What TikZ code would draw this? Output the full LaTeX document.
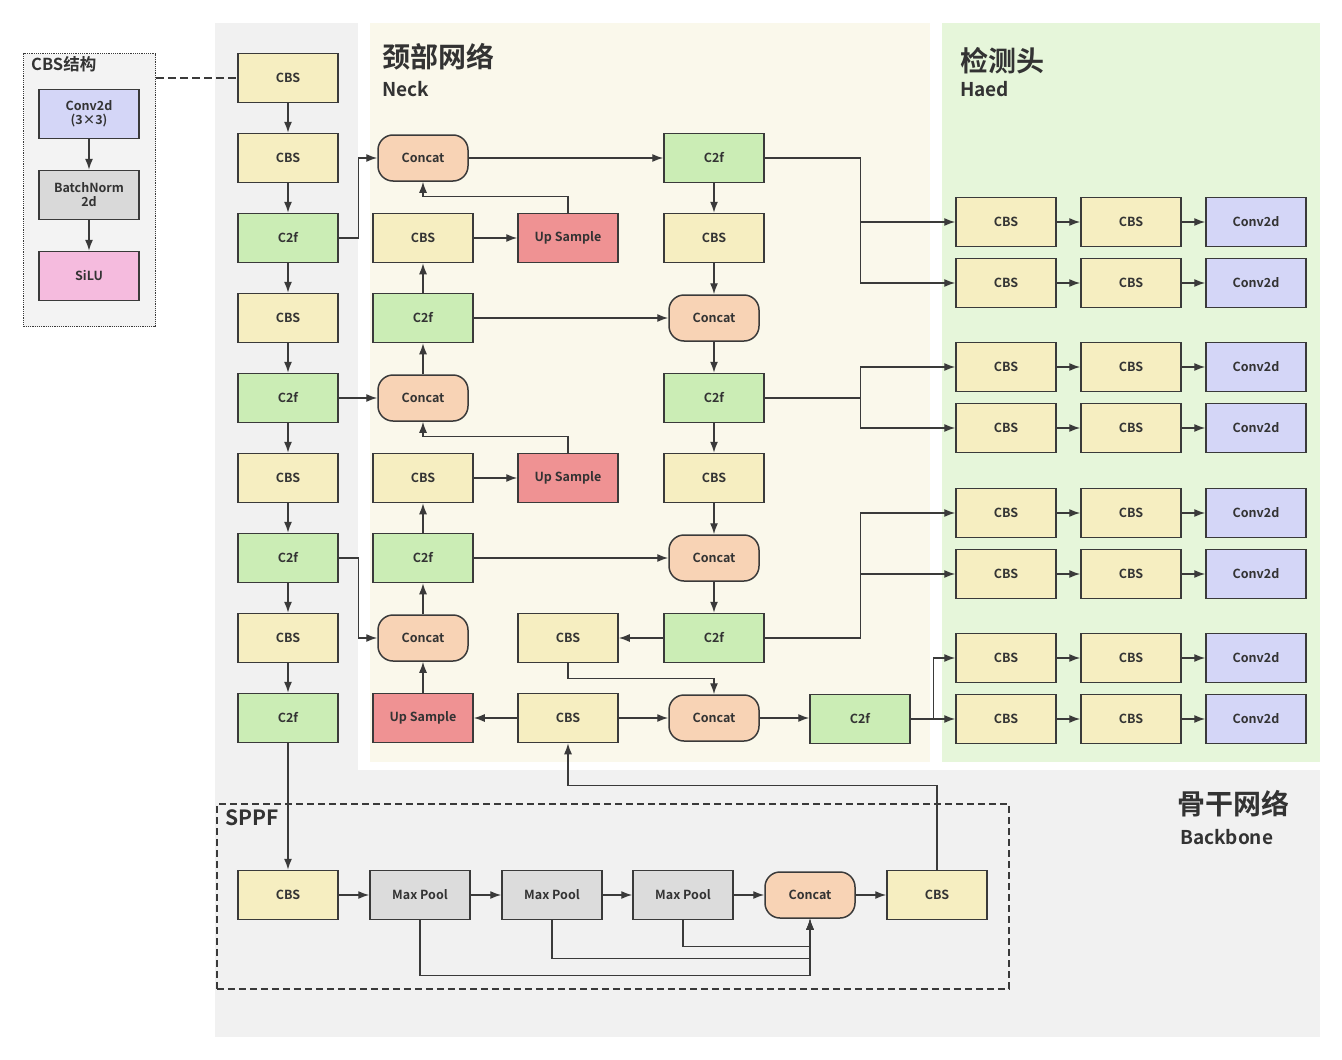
\documentclass[tikz,border=0pt]{standalone}
\usepackage{fontspec}
\setmainfont{Noto Sans CJK SC}[BoldFont={Noto Sans CJK SC Bold}]
\usetikzlibrary{arrows.meta,positioning}
\definecolor{linecol}{HTML}{3A3A3A}
\definecolor{textcol}{HTML}{333333}
\definecolor{cbsfill}{HTML}{F6EEC1}
\definecolor{c2ffill}{HTML}{CBEDB5}
\definecolor{catfill}{HTML}{F8D3B5}
\definecolor{upfill}{HTML}{EF9293}
\definecolor{convfill}{HTML}{D4D6F7}
\definecolor{bnfill}{HTML}{D9D9D9}
\definecolor{silufill}{HTML}{F5BBDE}
\definecolor{poolfill}{HTML}{DCDCDC}
\definecolor{bbbg}{HTML}{F1F1F1}
\definecolor{neckbg}{HTML}{FAF8EB}
\definecolor{headbg}{HTML}{E6F6DA}
\definecolor{cbsbg}{HTML}{F3F3F3}
\tikzset{
  box/.style={draw=linecol, line width=1.5pt, minimum width=100pt, minimum height=49pt,
    inner sep=0pt, font=\bfseries\fontsize{12.5}{14}\selectfont, text=textcol, align=center},
  cbs/.style={box, fill=cbsfill},
  c2f/.style={box, fill=c2ffill},
  cat/.style={box, fill=catfill, minimum width=90pt, minimum height=46pt, rounded corners=15pt},
  upsm/.style={box, fill=upfill},
  conv/.style={box, fill=convfill},
  bn/.style={box, fill=bnfill},
  silu/.style={box, fill=silufill},
  pool/.style={box, fill=poolfill},
  arr/.style={draw=linecol, line width=1.4pt, -{Latex[length=11pt,width=8pt]}},
  bigtitle/.style={anchor=west, inner sep=0pt, text=textcol, font=\bfseries\fontsize{28}{30}\selectfont},
  subtitle/.style={anchor=west, inner sep=0pt, text=textcol, font=\bfseries\fontsize{19}{21}\selectfont},
}
\begin{document}
\begin{tikzpicture}[x=1pt,y=-1pt]
\useasboundingbox (0,0) rectangle (1342,1060);
\fill[white] (0,0) rectangle (1342,1060);
% backgrounds
\fill[bbbg] (215,23) rectangle (1320,1037);
\fill[white] (358,15) rectangle (1330,770);
\fill[neckbg] (370,23) rectangle (930,762);
\fill[headbg] (942,23) rectangle (1320,762);
% titles
\node[bigtitle] (tneck) at (382,57) {颈部网络};
\node[subtitle] (tneck2) at (382,89) {Neck};
\node[bigtitle] (thead) at (960,61) {检测头};
\node[subtitle] (thead2) at (960,89) {Haed};
\node[bigtitle] (tbb) at (1177,804) {骨干网络};
\node[subtitle] (tbb2) at (1180,837) {Backbone};
% CBS structure box
\node[draw=linecol, densely dotted, line width=1.2pt, fill=cbsbg, minimum width=132pt, minimum height=273pt, anchor=north west, inner sep=0pt] (cbsbox) at (23,53) {};
\node[anchor=west, inner sep=0pt, text=textcol, font=\bfseries\fontsize{16.5}{18}\selectfont] (cbstitle) at (31,64) {CBS结构};
\node[conv] (sconv) at (89,114) {Conv2d\\(3×3)};
\node[bn] (sbn) at (89,195) {BatchNorm\\2d};
\node[silu] (ssilu) at (89,276) {SiLU};
\draw[arr] (sconv) -- (sbn);
\draw[arr] (sbn) -- (ssilu);
% SPPF box
\node[draw=linecol, dash pattern=on 7pt off 4pt, line width=1.5pt, minimum width=792pt, minimum height=185pt, anchor=north west, inner sep=0pt] (sppfbox) at (216,803) {};
\node[anchor=west, inner sep=0pt, text=textcol, font=\bfseries\fontsize{21}{23}\selectfont] (sppft) at (225,818) {SPPF};
% backbone
\node[cbs] (b1) at (288,78) {CBS};
\node[cbs] (b2) at (288,158) {CBS};
\node[c2f] (b3) at (288,238) {C2f};
\node[cbs] (b4) at (288,318) {CBS};
\node[c2f] (b5) at (288,398) {C2f};
\node[cbs] (b6) at (288,478) {CBS};
\node[c2f] (b7) at (288,558) {C2f};
\node[cbs] (b8) at (288,638) {CBS};
\node[c2f] (b9) at (288,718) {C2f};
\draw[dash pattern=on 8pt off 4pt, draw=linecol, line width=1.5pt] (cbsbox.east |- b1.west) -- (b1.west);
\foreach \a/\b in {b1/b2,b2/b3,b3/b4,b4/b5,b5/b6,b6/b7,b7/b8,b8/b9} \draw[arr] (\a) -- (\b);
% SPPF nodes
\node[cbs] (s1) at (288,895) {CBS};
\node[pool] (s2) at (420,895) {Max Pool};
\node[pool] (s3) at (552,895) {Max Pool};
\node[pool] (s4) at (683,895) {Max Pool};
\node[cat] (s5) at (810,895) {Concat};
\node[cbs] (s6) at (937,895) {CBS};
\draw[arr] (b9) -- (s1);
\foreach \a/\b in {s1/s2,s2/s3,s3/s4,s4/s5,s5/s6} \draw[arr] (\a) -- (\b);
\draw[arr] (s2.south) -- ++(0,55) -| (s5.south);
\draw[arr] (s3.south) -- ++(0,38) -| (s5.south);
\draw[arr] (s4.south) -- ++(0,26) -| (s5.south);
% neck column 1
\node[cat] (n1) at (423,158) {Concat};
\node[cbs] (n2) at (423,238) {CBS};
\node[c2f] (n3) at (423,318) {C2f};
\node[cat] (n4) at (423,398) {Concat};
\node[cbs] (n5) at (423,478) {CBS};
\node[c2f] (n6) at (423,558) {C2f};
\node[cat] (n7) at (423,638) {Concat};
\node[upsm] (n8) at (423,718) {Up Sample};
% neck column 2
\node[upsm] (u1) at (568,238) {Up Sample};
\node[upsm] (u2) at (568,478) {Up Sample};
\node[cbs] (m1) at (568,638) {CBS};
\node[cbs] (m2) at (568,718) {CBS};
% neck column 3
\node[c2f] (r1) at (714,158) {C2f};
\node[cbs] (r2) at (714,238) {CBS};
\node[cat] (r3) at (714,318) {Concat};
\node[c2f] (r4) at (714,398) {C2f};
\node[cbs] (r5) at (714,478) {CBS};
\node[cat] (r6) at (714,558) {Concat};
\node[c2f] (r7) at (714,638) {C2f};
\node[cat] (r8) at (714,718) {Concat};
\node[c2f] (r9) at (860,719) {C2f};
% backbone -> neck
\draw[arr] (b3.east) -- ++(20,0) |- (n1.west);
\draw[arr] (b5) -- (n4);
\draw[arr] (b7.east) -- ++(20,0) |- (n7.west);
% neck col1 upward
\draw[arr] (n8) -- (n7);
\draw[arr] (n7) -- (n6);
\draw[arr] (n6) -- (n5);
\draw[arr] (n5) -- (u2);
\draw[arr] (u2.north) -- ++(0,-16.5) -| (n4.south);
\draw[arr] (n4) -- (n3);
\draw[arr] (n3) -- (n2);
\draw[arr] (n2) -- (u1);
\draw[arr] (u1.north) -- ++(0,-16.5) -| (n1.south);
\draw[arr] (n1) -- (r1);
% col3 downward
\draw[arr] (r1) -- (r2);
\draw[arr] (r2) -- (r3);
\draw[arr] (r3) -- (r4);
\draw[arr] (r4) -- (r5);
\draw[arr] (r5) -- (r6);
\draw[arr] (r6) -- (r7);
\draw[arr] (n3) -- (r3);
\draw[arr] (n6) -- (r6);
\draw[arr] (r7) -- (m1);
\draw[arr] (m1.south) -- ++(0,15.5) -| (r8.north);
\draw[arr] (m2) -- (n8);
\draw[arr] (m2) -- (r8);
\draw[arr] (r8.east) -- (r9.west |- r8.east);
\draw[arr] (s6.north) -- ++(0,-84.5) -| (m2.south);
% head
\foreach \i/\y in {1/222,2/283,3/367,4/428,5/513,6/574,7/658,8/719}{
  \node[cbs] (ha\i) at (1006,\y) {CBS};
  \node[cbs] (hb\i) at (1131,\y) {CBS};
  \node[conv] (hc\i) at (1256,\y) {Conv2d};
  \draw[arr] (ha\i) -- (hb\i);
  \draw[arr] (hb\i) -- (hc\i);
}
\draw[arr] (r1.east) -- ++(96,0) |- (ha1.west);
\draw[arr] (r1.east) -- ++(96,0) |- (ha2.west);
\draw[arr] (r4.east) -- ++(96,0) |- (ha3.west);
\draw[arr] (r4.east) -- ++(96,0) |- (ha4.west);
\draw[arr] (r7.east) -- ++(96,0) |- (ha5.west);
\draw[arr] (r7.east) -- ++(96,0) |- (ha6.west);
\draw[arr] (r9.east) -- ++(23,0) |- (ha7.west);
\draw[arr] (r9) -- (ha8);
\end{tikzpicture}
\end{document}
